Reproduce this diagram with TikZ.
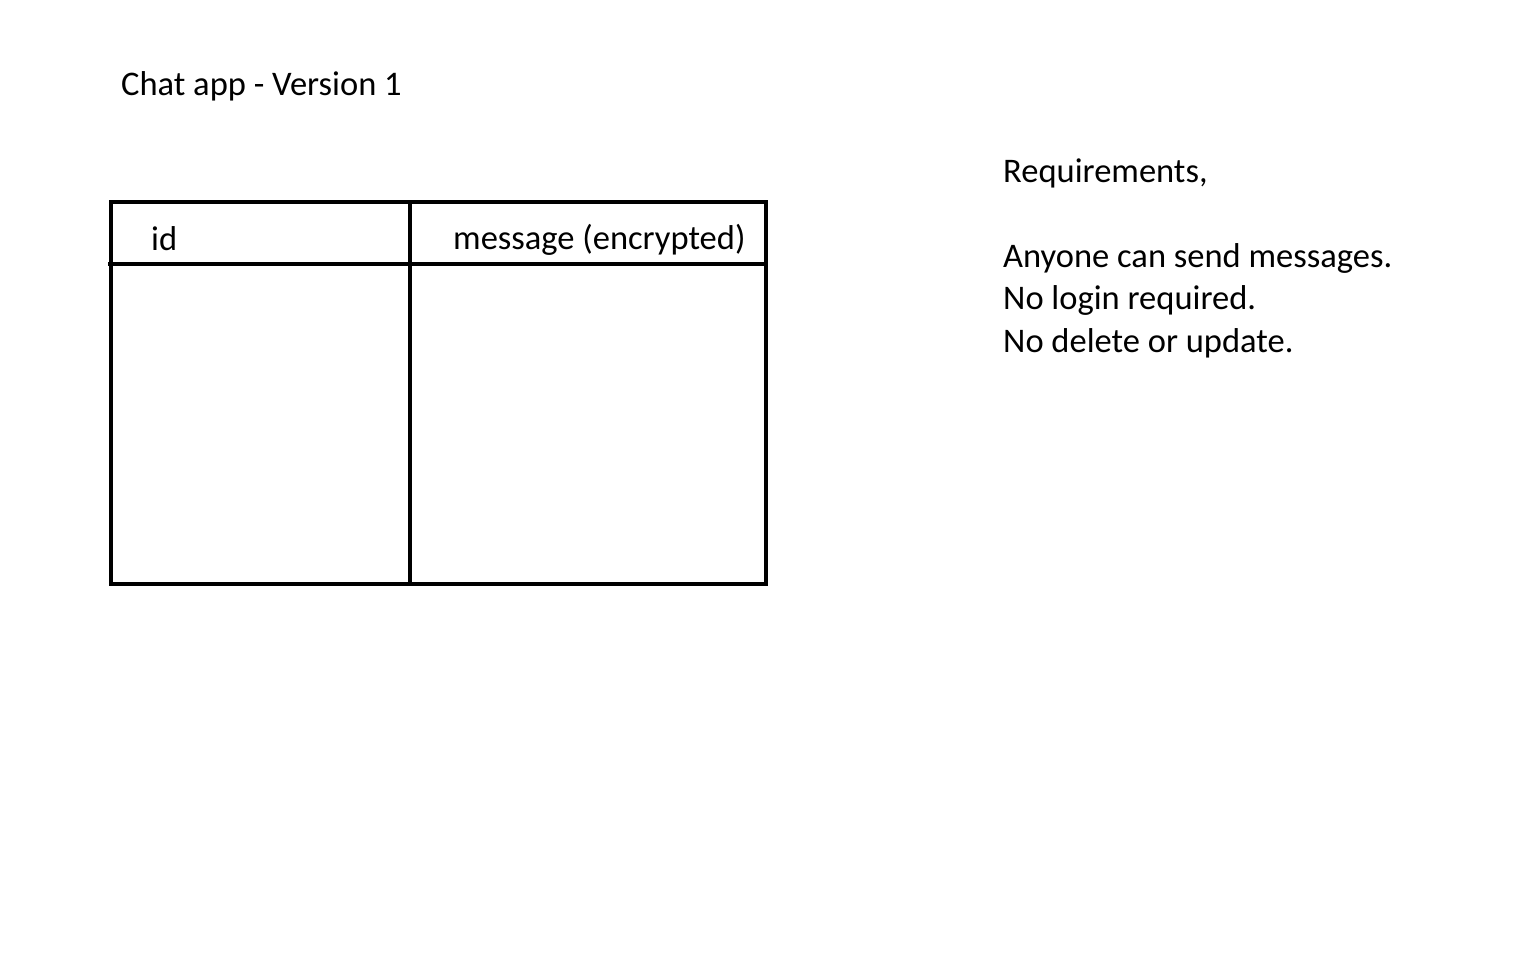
\documentclass[tikz,border=0pt]{standalone}
\usepackage{fontspec}
\setmainfont{Carlito}
\usepackage{tikz}
\tikzstyle{label text}=[anchor=base west, inner sep=0pt, font=\fontsize{34.5}{40}\selectfont]
\tikzstyle{table line}=[draw=black, line width=4pt]

\begin{document}
\begin{tikzpicture}[x=1pt, y=-1pt]
		   \useasboundingbox (0, 0) rectangle (1536, 960);
		   \begin{scope}
			   \node (title) at (121, 96)[label text] {Chat app - Version 1};
			   \node (req) at (1003, 183)[label text] {Requirements,};
			   \node (req1) at (1003, 267)[label text] {Anyone can send messages.};
			   \node (req2) at (1003, 309)[label text] {No login required.};
			   \node (req3) at (1003, 352)[label text] {No delete or update.};
		   \end{scope}
		   \begin{scope}
			   \coordinate (tl) at (111, 202);
			   \coordinate (br) at (766, 584);
			   \coordinate (hl) at (108, 264);
			   \coordinate (hr) at (766, 264);
			   \coordinate (vt) at (410, 202);
			   \coordinate (vb) at (410, 584);
			   \path [table line] (tl) rectangle (br);
			   \path [table line] (hl) -- (hr);
			   \path [table line] (vt) -- (vb);
		   \end{scope}
		   \begin{scope}
			   \node (id) at (151, 251)[label text] {id};
			   \node (msg) at (453, 249)[label text] {message (encrypted)};
		   \end{scope}
	   \end{tikzpicture}
\end{document}
